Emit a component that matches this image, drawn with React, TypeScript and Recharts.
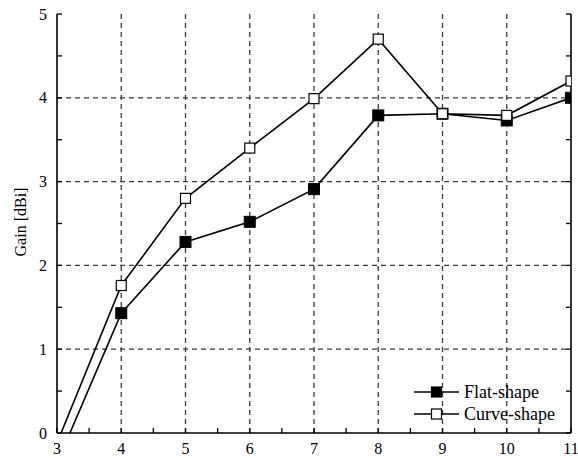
import React from 'react';
import { LineChart, Line, XAxis, YAxis, ReferenceLine } from 'recharts';

const frequencies = [3, 4, 5, 6, 7, 8, 9, 10, 11];
const flatShape = [-0.36, 1.43, 2.28, 2.52, 2.91, 3.79, 3.81, 3.73, 4.0];
const curveShape = [-0.12, 1.76, 2.8, 3.4, 3.99, 4.7, 3.81, 3.79, 4.2];
const xTicks = [3, 3.5, 4, 4.5, 5, 5.5, 6, 6.5, 7, 7.5, 8, 8.5, 9, 9.5, 10, 10.5, 11];
const yTicks = [0, 0.5, 1, 1.5, 2, 2.5, 3, 3.5, 4, 4.5, 5];
const xGrid = [4, 5, 6, 7, 8, 9, 10];
const yGrid = [1, 2, 3, 4];
const seriesNames = ['Flat-shape', 'Curve-shape'];
const yAxisTitle = 'Gain [dBi]';

const data = frequencies.map((f, i) => ({ f, flat: flatShape[i], curve: curveShape[i] }));

const FONT = '"Liberation Serif", "Times New Roman", serif';
const TL = 5;

const BottomTick = (props: any) => {
  const { x, y, payload } = props;
  const v = payload.value;
  const isInt = Number.isInteger(v);
  return (
    <g>
      <line x1={x} x2={x} y1={y} y2={y - TL} stroke="#000" strokeWidth={1.3} />
      {isInt && (
        <text x={x} y={y + 21} textAnchor="middle" fontSize={16} fontFamily={FONT} fill="#000">
          {v}
        </text>
      )}
    </g>
  );
};

const TopTick = (props: any) => {
  const { x, y } = props;
  return <line x1={x} x2={x} y1={y} y2={y + TL} stroke="#000" strokeWidth={1.3} />;
};

const LeftTick = (props: any) => {
  const { x, y, payload } = props;
  const v = payload.value;
  const isInt = Number.isInteger(v);
  return (
    <g>
      <line x1={x} x2={x + TL} y1={y} y2={y} stroke="#000" strokeWidth={1.3} />
      {isInt && (
        <text x={x - 10} y={y} dy="0.35em" textAnchor="end" fontSize={16} fontFamily={FONT} fill="#000">
          {v}
        </text>
      )}
    </g>
  );
};

const RightTick = (props: any) => {
  const { x, y } = props;
  return <line x1={x} x2={x - TL} y1={y} y2={y} stroke="#000" strokeWidth={1.3} />;
};

const FlatDot = (props: any) => {
  const { cx, cy, index } = props;
  if (cx == null || cy == null) return <g key={`fd${index}`} />;
  return <rect key={`fd${index}`} x={cx - 5.5} y={cy - 5.5} width={11} height={11} fill="#000" stroke="#000" />;
};

const CurveDot = (props: any) => {
  const { cx, cy, index } = props;
  if (cx == null || cy == null) return <g key={`cd${index}`} />;
  return <rect key={`cd${index}`} x={cx - 5} y={cy - 5} width={10} height={10} fill="#fff" stroke="#000" strokeWidth={1.2} />;
};

const legendFills = ['#000', '#fff'];

export default function App() {
  return (
    <div style={{ position: 'absolute', left: 0, top: 0, width: 578, height: 460, background: '#fff' }}>
      <LineChart width={578} height={460} data={data} margin={{ top: 14, right: 0, bottom: 0, left: 0 }}>
        <XAxis
          dataKey="f"
          type="number"
          domain={[3, 11]}
          ticks={xTicks}
          interval={0}
          height={27}
          tickSize={0}
          tickMargin={0}
          tickLine={false}
          tick={<BottomTick />}
          axisLine={{ stroke: '#000', strokeWidth: 1.6 }}
          allowDataOverflow
        />
        <XAxis
          xAxisId="top"
          orientation="top"
          dataKey="f"
          type="number"
          domain={[3, 11]}
          ticks={xTicks}
          interval={0}
          height={0}
          tickSize={0}
          tickMargin={0}
          tickLine={false}
          tick={<TopTick />}
          axisLine={{ stroke: '#000', strokeWidth: 1.6 }}
          allowDataOverflow
        />
        <YAxis
          type="number"
          domain={[0, 5]}
          ticks={yTicks}
          interval={0}
          width={57}
          tickSize={0}
          tickMargin={0}
          tickLine={false}
          tick={<LeftTick />}
          axisLine={{ stroke: '#000', strokeWidth: 1.6 }}
          allowDataOverflow
        />
        <YAxis
          yAxisId="right"
          orientation="right"
          type="number"
          domain={[0, 5]}
          ticks={yTicks}
          interval={0}
          width={7}
          tickSize={0}
          tickMargin={0}
          tickLine={false}
          tick={<RightTick />}
          axisLine={{ stroke: '#000', strokeWidth: 1.6 }}
          allowDataOverflow
        />
        {xGrid.map((v) => (
          <ReferenceLine key={`gx${v}`} x={v} stroke="#3a3a3a" strokeWidth={1.3} strokeDasharray="5 4" />
        ))}
        {yGrid.map((v) => (
          <ReferenceLine key={`gy${v}`} y={v} stroke="#3a3a3a" strokeWidth={1.3} strokeDasharray="5 4" />
        ))}
        <Line
          type="linear"
          dataKey="flat"
          name={seriesNames[0]}
          stroke="#000"
          strokeWidth={1.6}
          dot={FlatDot}
          activeDot={false}
          isAnimationActive={false}
        />
        <Line
          type="linear"
          dataKey="curve"
          name={seriesNames[1]}
          stroke="#000"
          strokeWidth={1.6}
          dot={CurveDot}
          activeDot={false}
          isAnimationActive={false}
        />
      </LineChart>
      <div
        style={{
          position: 'absolute',
          left: 21,
          top: 222,
          width: 0,
          height: 0,
          pointerEvents: 'none',
        }}
      >
        <div
          style={{
            position: 'absolute',
            left: 0,
            top: 0,
            transform: 'translate(-50%, -50%) rotate(-90deg)',
            fontFamily: FONT,
            fontSize: 16,
            lineHeight: '18px',
            color: '#000',
            whiteSpace: 'nowrap',
          }}
        >
          {yAxisTitle}
        </div>
      </div>
      <div
        style={{
          position: 'absolute',
          left: 412,
          top: 381,
          fontFamily: FONT,
          fontSize: 18,
          color: '#000',
          lineHeight: '22px',
          whiteSpace: 'nowrap',
        }}
      >
        {seriesNames.map((name, i) => (
          <div key={name} style={{ display: 'flex', alignItems: 'center', height: 22 }}>
            <svg width={50} height={14} style={{ display: 'block' }}>
              <line x1={2} x2={47} y1={7} y2={7} stroke="#000" strokeWidth={1.5} />
              <rect x={19.5} y={2} width={10} height={10} fill={legendFills[i]} stroke="#000" strokeWidth={1.2} />
            </svg>
            <span style={{ marginLeft: 2 }}>{name}</span>
          </div>
        ))}
      </div>
    </div>
  );
}
